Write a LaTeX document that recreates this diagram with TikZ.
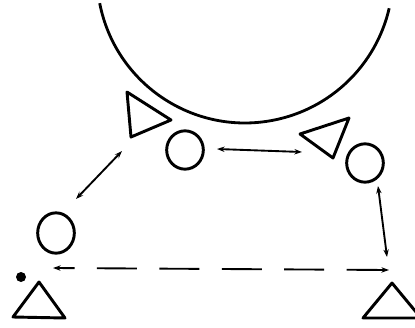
\documentclass[tikz,border=0pt]{standalone}
\usetikzlibrary{arrows.meta, shapes.geometric}

\begin{document}
\begin{tikzpicture}[x=0.03cm, y=-0.03cm,
  att/.style={draw=black, line width=2.5pt, ellipse, inner sep=0pt, minimum width=1.1cm, minimum height=1.15cm},
  def/.style={draw=black, line width=2.5pt, line join=round},
  pass/.style={{Stealth[length=6.5pt,width=4.6pt]}-{Stealth[length=6.5pt,width=4.6pt]}, line width=1.6pt},
  run/.style={pass, dash pattern=on 1.2cm off 0.672cm, dash phase=0.69cm}]
  \useasboundingbox (0,0) rectangle (415,327);
  \clip (0,0) rectangle (415,327);
  % circle of the field
  \draw[line width=2.4pt] (99.7,3.2) arc[start angle=169, end angle=13, radius=148];
  % defenders
  \draw[def] (127,92) -- (171,120) -- (131,137) -- cycle;
  \draw[def] (300,134) -- (349,118) -- (333,158) -- cycle;
  \draw[def] (39,282) -- (13,317) -- (65,318) -- cycle;
  \draw[def] (392,283) -- (363,318) -- (421,318) -- cycle;
  % attackers
  \node[att] (midl) at (185,150) {};
  \node[att] (midr) at (365,163) {};
  \node[att, minimum height=1.21cm] (left) at (56,233) {};
  \fill (21,277) circle (5);
  % passes
  \coordinate (p1a) at (122,151);
  \coordinate (p1b) at (76,199);
  \coordinate (p2a) at (217,149);
  \coordinate (p2b) at (302,152);
  \coordinate (p3a) at (378,186);
  \coordinate (p3b) at (387,257);
  \coordinate (r1a) at (53,268);
  \coordinate (r1b) at (389,270);
  \draw[pass] (p1a) -- (p1b);
  \draw[pass] (p2a) -- (p2b);
  \draw[pass] (p3a) -- (p3b);
  \draw[run] (r1a) -- (r1b);
\end{tikzpicture}
\end{document}
